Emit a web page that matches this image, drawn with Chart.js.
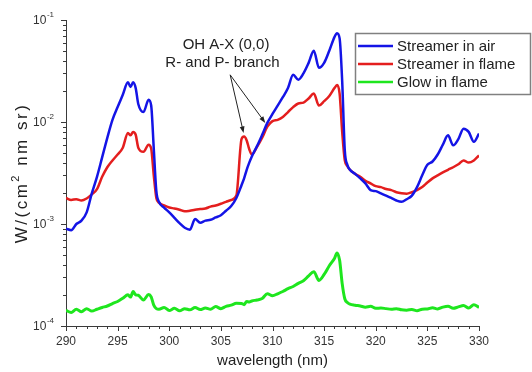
<!DOCTYPE html>
<html>
<head>
<meta charset="utf-8">
<script src="https://cdn.jsdelivr.net/npm/chart.js@4/dist/chart.umd.min.js"></script>
<style>
  html, body { margin: 0; padding: 0; background: #fff; }
  #wrap { width: 532px; height: 372px; }
</style>
</head>
<body>
<div id="wrap"><canvas id="spectrum" width="532" height="372"></canvas></div>
<script>
// wavelength grid (nm), extra samples around the sharp band heads
const wavelength = [
  290, 290.5, 291, 291.5, 292, 292.5, 293, 293.5, 294, 294.5,
  295, 295.5, 296, 296.25, 296.5, 296.75, 297, 297.5, 298, 298.25, 298.5, 298.75,
  299, 299.5, 300, 300.5, 301, 301.5, 302, 302.5, 303, 303.5,
  304, 304.5, 305, 305.5, 306, 306.5, 307, 307.25, 307.5, 307.75,
  308, 308.5, 309, 309.5, 310, 310.5, 311, 311.5, 312, 312.5,
  313, 313.5, 314, 314.5, 315, 315.5, 316, 316.25, 316.5, 316.75, 317, 317.25, 317.5,
  318, 318.5, 319, 319.5, 320, 320.5, 321, 321.5, 322, 322.5,
  323, 323.5, 324, 324.5, 325, 325.5, 326, 326.5, 327, 327.5,
  328, 328.5, 329, 329.5, 330
];

// W/(cm2 nm sr)
const streamerAir = [
  9.0e-4, 8.7e-4, 1.0e-3, 1.08e-3, 1.3e-3, 2.0e-3, 2.9e-3, 4.5e-3, 7.0e-3, 1.05e-2,
  1.4e-2, 1.85e-2, 2.45e-2, 2.2e-2, 2.45e-2, 2.15e-2, 1.5e-2, 1.25e-2, 1.65e-2, 1.45e-2, 5.5e-3, 2.1e-3,
  1.65e-3, 1.45e-3, 1.3e-3, 1.15e-3, 1.02e-3, 9.2e-4, 8.8e-4, 1.12e-3, 1.03e-3, 1.08e-3,
  1.1e-3, 1.16e-3, 1.22e-3, 1.35e-3, 1.5e-3, 1.8e-3, 2.4e-3, 2.8e-3, 3.4e-3, 4.0e-3,
  4.6e-3, 5.8e-3, 7.5e-3, 9.8e-3, 1.2e-2, 1.45e-2, 1.75e-2, 2.15e-2, 2.9e-2, 2.6e-2,
  3.0e-2, 3.8e-2, 5.0e-2, 3.4e-2, 3.8e-2, 5.0e-2, 6.8e-2, 7.4e-2, 6.6e-2, 2.5e-2, 5.3e-3, 3.8e-3, 3.4e-3,
  3.1e-3, 2.8e-3, 2.5e-3, 2.15e-3, 2.1e-3, 2.0e-3, 1.9e-3, 1.8e-3, 1.7e-3, 1.65e-3,
  1.75e-3, 1.9e-3, 2.3e-3, 3.0e-3, 3.8e-3, 4.1e-3, 4.8e-3, 6.0e-3, 7.4e-3, 5.9e-3,
  6.8e-3, 8.6e-3, 8.0e-3, 6.4e-3, 7.7e-3
];

const streamerFlame = [
  1.8e-3, 1.72e-3, 1.75e-3, 1.7e-3, 1.78e-3, 1.95e-3, 2.2e-3, 2.9e-3, 3.6e-3, 4.2e-3,
  4.8e-3, 5.6e-3, 7.8e-3, 7.4e-3, 8.0e-3, 7.5e-3, 5.6e-3, 5.1e-3, 6.0e-3, 5.5e-3, 3.0e-3, 1.8e-3,
  1.62e-3, 1.52e-3, 1.45e-3, 1.42e-3, 1.38e-3, 1.33e-3, 1.35e-3, 1.38e-3, 1.4e-3, 1.42e-3,
  1.48e-3, 1.52e-3, 1.58e-3, 1.65e-3, 1.72e-3, 1.9e-3, 6.8e-3, 7.2e-3, 6.6e-3, 5.4e-3,
  4.8e-3, 5.7e-3, 7.0e-3, 9.0e-3, 1.02e-2, 1.05e-2, 1.12e-2, 1.25e-2, 1.4e-2, 1.52e-2,
  1.55e-2, 1.7e-2, 1.9e-2, 1.45e-2, 1.6e-2, 1.8e-2, 2.15e-2, 2.3e-2, 1.9e-2, 8.0e-3, 4.2e-3, 3.7e-3, 3.4e-3,
  3.1e-3, 2.9e-3, 2.65e-3, 2.5e-3, 2.35e-3, 2.3e-3, 2.2e-3, 2.15e-3, 2.05e-3, 2.0e-3,
  1.98e-3, 2.05e-3, 2.15e-3, 2.3e-3, 2.55e-3, 2.8e-3, 3.0e-3, 3.2e-3, 3.4e-3, 3.6e-3,
  3.85e-3, 4.2e-3, 4.0e-3, 4.2e-3, 4.7e-3
];

const glowFlame = [
  1.42e-4, 1.36e-4, 1.46e-4, 1.38e-4, 1.48e-4, 1.4e-4, 1.46e-4, 1.52e-4, 1.57e-4, 1.66e-4,
  1.74e-4, 1.87e-4, 2.02e-4, 1.92e-4, 2.18e-4, 2.02e-4, 2.0e-4, 1.8e-4, 2.04e-4, 1.93e-4, 1.6e-4, 1.48e-4,
  1.46e-4, 1.52e-4, 1.42e-4, 1.49e-4, 1.41e-4, 1.48e-4, 1.44e-4, 1.52e-4, 1.45e-4, 1.5e-4,
  1.46e-4, 1.55e-4, 1.48e-4, 1.56e-4, 1.6e-4, 1.67e-4, 1.66e-4, 1.62e-4, 1.74e-4, 1.72e-4,
  1.76e-4, 1.8e-4, 1.86e-4, 2.07e-4, 1.98e-4, 2.07e-4, 2.18e-4, 2.32e-4, 2.44e-4, 2.62e-4,
  2.78e-4, 3.1e-4, 3.4e-4, 2.8e-4, 3.2e-4, 3.9e-4, 4.6e-4, 5.2e-4, 4.4e-4, 2.6e-4, 1.85e-4, 1.7e-4, 1.64e-4,
  1.6e-4, 1.57e-4, 1.53e-4, 1.56e-4, 1.49e-4, 1.5e-4, 1.48e-4, 1.46e-4, 1.48e-4, 1.44e-4,
  1.43e-4, 1.45e-4, 1.41e-4, 1.46e-4, 1.47e-4, 1.51e-4, 1.47e-4, 1.53e-4, 1.56e-4, 1.49e-4,
  1.54e-4, 1.59e-4, 1.5e-4, 1.62e-4, 1.52e-4
];

const seriesLabels = ["Streamer in air", "Streamer in flame", "Glow in flame"];
const seriesColors = ["#1414e6", "#e41e1e", "#1ee61e"];

const xMajorTicks = [290, 295, 300, 305, 310, 315, 320, 325, 330];
const yDecades = [-4, -3, -2, -1];

// annotation text and arrows, in data coordinates
const noteLines = ["OH A-X (0,0)", "R- and P- branch"];
const noteAnchors = [{ x: 305.5, y: 5.7e-2 }, { x: 305.15, y: 3.8e-2 }];
const arrowTail = { x: 305.9, y: 2.9e-2 };
const arrowHeads = [{ x: 307.2, y: 7.8e-3 }, { x: 309.3, y: 9.8e-3 }];

const FONT = "'Liberation Sans', Arial, sans-serif";
const AXIS_COLOR = "#3a3a3a";

const toPoints = (values) => values.map((v, i) => ({ x: wavelength[i], y: v }));

// unit label with a raised "2", drawn rotated along the y axis
function drawYTitle(ctx, cx, cy) {
  const parts = [["W/(cm", 17, 0], ["2", 11, -6], [" nm sr)", 17, 0]];
  ctx.save();
  ctx.translate(cx, cy);
  ctx.rotate(-Math.PI / 2);
  ctx.letterSpacing = "2.5px";
  ctx.textAlign = "left";
  ctx.textBaseline = "middle";
  ctx.fillStyle = "#222";
  let total = 0;
  parts.forEach(([t, size]) => {
    ctx.font = `${size}px ${FONT}`;
    total += ctx.measureText(t).width;
  });
  let pos = -total / 2;
  parts.forEach(([t, size, dy]) => {
    ctx.font = `${size}px ${FONT}`;
    ctx.fillText(t, pos, dy + 1);
    pos += ctx.measureText(t).width;
  });
  ctx.restore();
}

const axisDecor = {
  id: "axisDecor",
  afterDraw(chart) {
    const { ctx, chartArea: area, scales: { x, y } } = chart;
    ctx.save();
    ctx.strokeStyle = AXIS_COLOR;
    ctx.lineWidth = 1;

    // x ticks: every nm, longer every 5 nm
    for (let w = 290; w <= 330; w++) {
      const px = Math.round(x.getPixelForValue(w)) + 0.5;
      const len = w % 5 === 0 ? 5 : 3;
      ctx.beginPath();
      ctx.moveTo(px, area.bottom);
      ctx.lineTo(px, area.bottom + len);
      ctx.stroke();
    }

    // y ticks: decades and 2..9 in between
    yDecades.forEach((d) => {
      for (let m = 1; m <= 9; m++) {
        if (m > 1 && d === -1) break;
        const py = Math.round(y.getPixelForValue(m * Math.pow(10, d))) + 0.5;
        const len = m === 1 ? 5 : 3;
        ctx.beginPath();
        ctx.moveTo(area.left, py);
        ctx.lineTo(area.left - len, py);
        ctx.stroke();
      }
    });

    // y labels as 10 with raised exponent
    ctx.fillStyle = "#333";
    ctx.textBaseline = "middle";
    ctx.textAlign = "right";
    yDecades.forEach((d) => {
      const py = y.getPixelForValue(Math.pow(10, d));
      const exp = String(d);
      ctx.font = `8px ${FONT}`;
      const ew = ctx.measureText(exp).width;
      ctx.fillText(exp, 54, py - 5);
      ctx.font = `12px ${FONT}`;
      ctx.fillText("10", 54 - ew - 0.5, py + 1);
    });

    drawYTitle(ctx, 21, 173);

    // annotation
    ctx.fillStyle = "#222";
    ctx.textAlign = "center";
    ctx.font = `15px ${FONT}`;
    noteLines.forEach((t, i) => {
      ctx.fillText(t, x.getPixelForValue(noteAnchors[i].x), y.getPixelForValue(noteAnchors[i].y));
    });
    const tx = x.getPixelForValue(arrowTail.x);
    const ty = y.getPixelForValue(arrowTail.y);
    ctx.strokeStyle = "#222";
    arrowHeads.forEach((h) => {
      const hx = x.getPixelForValue(h.x);
      const hy = y.getPixelForValue(h.y);
      const ang = Math.atan2(hy - ty, hx - tx);
      ctx.beginPath();
      ctx.moveTo(tx, ty);
      ctx.lineTo(hx - 5 * Math.cos(ang), hy - 5 * Math.sin(ang));
      ctx.stroke();
      ctx.beginPath();
      ctx.moveTo(hx, hy);
      ctx.lineTo(hx - 7 * Math.cos(ang - 0.35), hy - 7 * Math.sin(ang - 0.35));
      ctx.lineTo(hx - 7 * Math.cos(ang + 0.35), hy - 7 * Math.sin(ang + 0.35));
      ctx.closePath();
      ctx.fill();
    });

    // legend box
    ctx.fillStyle = "#fff";
    ctx.fillRect(355.5, 33.5, 175, 61);
    ctx.strokeStyle = "#808080";
    ctx.lineWidth = 1.5;
    ctx.strokeRect(355.5, 33.5, 175, 61);
    ctx.textAlign = "left";
    ctx.font = `15px ${FONT}`;
    seriesLabels.forEach((label, i) => {
      const ry = 46 + i * 18;
      ctx.strokeStyle = seriesColors[i];
      ctx.lineWidth = 2.5;
      ctx.beginPath();
      ctx.moveTo(358, ry);
      ctx.lineTo(393, ry);
      ctx.stroke();
      ctx.fillStyle = "#222";
      ctx.fillText(label, 397, ry + 1);
    });
    ctx.restore();
  }
};

const seriesValues = [streamerAir, streamerFlame, glowFlame];

new Chart(document.getElementById("spectrum"), {
  type: "line",
  data: {
    datasets: seriesValues.map((vals, i) => ({
      label: seriesLabels[i],
      data: toPoints(vals),
      borderColor: seriesColors[i],
      borderWidth: i === 2 ? 3 : 2.5,
      pointRadius: 0,
      cubicInterpolationMode: "monotone",
      fill: false
    }))
  },
  options: {
    responsive: false,
    animation: false,
    events: [],
    layout: { padding: { left: 0, top: 20, right: 53, bottom: 0 } },
    plugins: { legend: { display: false }, tooltip: { enabled: false } },
    scales: {
      x: {
        type: "linear",
        min: 290,
        max: 330,
        afterFit: (s) => { s.height = 46; },
        afterBuildTicks: (s) => { s.ticks = xMajorTicks.map((v) => ({ value: v })); },
        grid: { display: false, drawTicks: false },
        border: { display: true, color: AXIS_COLOR, width: 1 },
        ticks: { color: "#333", padding: 8, font: { family: FONT, size: 12 } },
        title: {
          display: true,
          text: "wavelength (nm)",
          color: "#222",
          font: { family: FONT, size: 15 },
          padding: { top: 0, bottom: 2 }
        }
      },
      y: {
        type: "logarithmic",
        min: 1e-4,
        max: 1e-1,
        afterFit: (s) => { s.width = 66; },
        grid: { display: false, drawTicks: false },
        border: { display: true, color: AXIS_COLOR, width: 1 },
        ticks: { display: false }
      }
    }
  },
  plugins: [axisDecor]
});
</script>
</body>
</html>
